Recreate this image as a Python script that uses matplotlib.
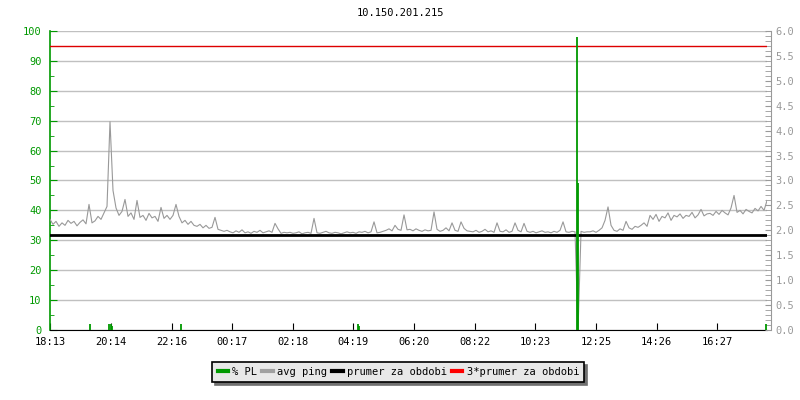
import numpy as np
import pandas as pd
import matplotlib
matplotlib.use("Agg")
import matplotlib.pyplot as plt
from matplotlib.lines import Line2D
from matplotlib.ticker import MultipleLocator

plt.rcParams['font.family'] = ['DejaVu Sans Mono']
plt.rcParams['font.size'] = 7.5

title = "10.150.201.215"
start = "18:13"
step_min = 6

# avg ping (right axis), one value every 6 minutes from 18:13
avg_ping = [
    2.22, 2.12, 2.18, 2.08, 2.15, 2.10, 2.20, 2.14, 2.18, 2.09, 2.16, 2.21, 2.13, 2.52, 2.15, 2.19, 2.28, 2.22, 2.35, 2.48,
    4.18, 2.80, 2.45, 2.30, 2.38, 2.62, 2.28, 2.35, 2.22, 2.60, 2.26, 2.30, 2.20, 2.34, 2.25, 2.28, 2.18, 2.46, 2.24, 2.30,
    2.22, 2.30, 2.52, 2.28, 2.15, 2.20, 2.12, 2.18, 2.10, 2.08, 2.12, 2.05, 2.10, 2.04, 2.06, 2.26, 2.02, 2.00, 1.98, 2.00,
    1.97, 1.95, 1.99, 1.96, 2.01, 1.95, 1.97, 1.94, 1.98, 1.96, 2.00, 1.95, 1.97, 1.99, 1.96, 2.14, 2.03, 1.94, 1.96, 1.95,
    1.96, 1.94, 1.95, 1.97, 1.93, 1.95, 1.96, 1.94, 2.24, 1.95, 1.94, 1.96, 1.98, 1.95, 1.94, 1.96, 1.95, 1.93, 1.95, 1.97,
    1.95, 1.96, 1.94, 1.97, 1.96, 1.98, 1.95, 1.97, 2.17, 1.95, 1.96, 1.98, 2.00, 2.03, 1.99, 2.10, 2.02, 2.00, 2.31, 2.01,
    2.02, 1.99, 2.03, 2.00, 1.98, 2.01, 1.99, 2.00, 2.37, 2.02, 1.98, 2.00, 2.05, 1.99, 2.15, 2.00, 1.98, 2.17, 2.04, 1.99,
    1.98, 1.97, 2.00, 1.96, 1.98, 2.02, 1.97, 1.99, 1.96, 2.15, 1.98, 1.97, 2.01, 1.96, 1.98, 2.15, 2.00, 1.97, 2.14, 1.98,
    1.96, 1.98, 1.95, 1.97, 1.99, 1.96, 1.97, 1.95, 1.98, 1.96, 2.00, 2.17, 1.97, 1.96, 1.98, 1.97, 0.00, 1.98, 1.96, 1.97,
    1.97, 1.99, 1.96, 2.00, 2.05, 2.20, 2.47, 2.10, 2.00, 1.98, 2.03, 2.00, 2.18, 2.05, 2.02, 2.08, 2.06, 2.10, 2.15, 2.08,
    2.30, 2.22, 2.32, 2.18, 2.28, 2.25, 2.35, 2.20, 2.30, 2.27, 2.33, 2.24, 2.30, 2.28, 2.36, 2.25, 2.31, 2.42, 2.29, 2.33,
    2.34, 2.30, 2.38, 2.32, 2.40, 2.35, 2.31, 2.45, 2.70, 2.36, 2.40, 2.33, 2.42, 2.38, 2.35, 2.44, 2.39, 2.48, 2.40, 2.60,
]

# packet loss events
pl_times = ["19:33", "20:10", "20:14", "20:17", "22:35", "04:28", "04:31", "11:47", "11:49", "18:04"]
pl_values = [2, 2, 2, 1.5, 2, 2, 1.5, 98, 49, 2]

prumer = 1.9
prumer3 = 5.7

tick_labels = ["18:13", "20:14", "22:16", "00:17", "02:18", "04:19",
               "06:20", "08:22", "10:23", "12:25", "14:26", "16:27"]


def minutes_from_start(s):
    h, m = map(int, s.split(":"))
    h0, m0 = map(int, start.split(":"))
    return (h * 60 + m - (h0 * 60 + m0)) % 1440


t = pd.Series(range(len(avg_ping))) * step_min
green = "#009900"
gray = "#999999"

fig = plt.figure(figsize=(8, 4), dpi=100)
ax = fig.add_axes([0.0625, 0.175, 0.8963, 0.7475])
ax2 = ax.twinx()

ax.set_xlim(0, 1434)
ax.set_ylim(0, 100)
ax2.set_ylim(0, 6)

# grid
ax.yaxis.set_major_locator(MultipleLocator(10))
ax.yaxis.set_minor_locator(MultipleLocator(5))
ax.grid(axis='y', color='#c0c0c0', lw=1)
ax.set_axisbelow(True)

ax2.plot(t, avg_ping, color=gray, lw=0.8, zorder=2)
ax2.axhline(prumer, color='black', lw=2, zorder=3)
ax2.axhline(prumer3, color='#dd0000', lw=1, zorder=3)
ax2.vlines([minutes_from_start(s) for s in pl_times], 0, np.array(pl_values) * 6 / 100,
           color=green, lw=1.3, zorder=4)

ax.set_xticks([minutes_from_start(s) for s in tick_labels])
ax.set_xticklabels(tick_labels)
ax.tick_params(axis='x', direction='in', length=5, color='black', pad=5, labelsize=7.5)
ax.tick_params(axis='y', which='major', direction='in', length=5, color=green,
               labelcolor=green, pad=6)
ax.tick_params(axis='y', which='minor', direction='in', length=3, color=green)

ax2.yaxis.set_major_locator(MultipleLocator(0.5))
ax2.yaxis.set_minor_locator(MultipleLocator(0.1))
ax2.yaxis.set_major_formatter(matplotlib.ticker.FormatStrFormatter('%.1f'))
ax2.tick_params(axis='y', which='major', direction='in', length=4, color=gray,
                labelcolor=gray, pad=3)
ax2.tick_params(axis='y', which='minor', direction='in', length=4, color=gray)
ax2.spines['right'].set_position(('outward', 3))
ax2.spines['right'].set_color(gray)

for a in (ax, ax2):
    a.spines['top'].set_visible(False)
ax2.spines['left'].set_visible(False)
ax2.spines['bottom'].set_visible(False)
ax.spines['right'].set_visible(False)
ax.spines['left'].set_color(green)
ax.spines['left'].set_linewidth(1.2)
ax.spines['bottom'].set_color('black')

fig.text(0.5, 0.967, title, ha='center', va='center', fontsize=7.5)

handles = [Line2D([], [], color=green, lw=3),
           Line2D([], [], color='#a0a0a0', lw=3),
           Line2D([], [], color='black', lw=3),
           Line2D([], [], color='#ff0000', lw=3)]
labels = ["% PL", "avg ping", "prumer za obdobi", "3*prumer za obdobi"]
leg = fig.legend(handles, labels, loc='center', bbox_to_anchor=(0.498, 0.07), ncol=4,
                 handlelength=1.0, handletextpad=0.4, columnspacing=0.5,
                 fancybox=False, edgecolor='black', facecolor='#e8e8e8', framealpha=1,
                 borderpad=0.5, shadow={'color': '#707070', 'alpha': 1.0}, fontsize=7.5)
leg.get_frame().set_linewidth(1.2)

fig.savefig("out.png", dpi=100)
